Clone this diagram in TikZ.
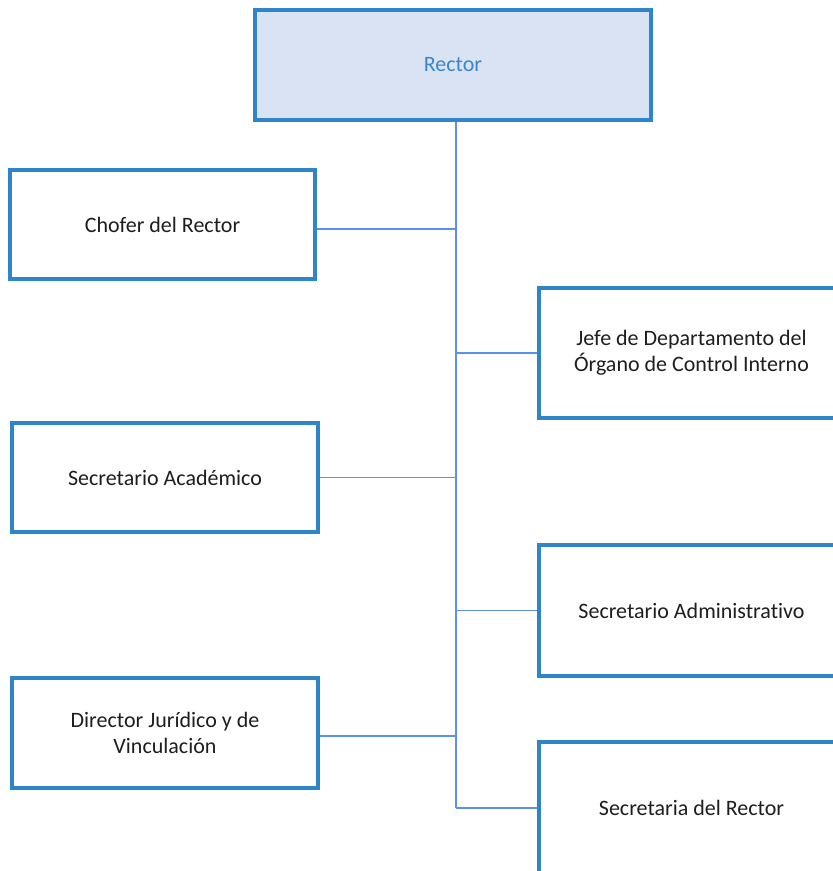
\documentclass[tikz,border=0pt]{standalone}
\usepackage{fontspec}
\setmainfont[Ligatures={NoCommon}]{Carlito}
\definecolor{boxborder}{HTML}{2F85CC}
\definecolor{boxfill}{HTML}{DAE3F3}
\definecolor{conncol}{HTML}{5B8FF2}
\definecolor{rectortext}{HTML}{3A86C8}
\definecolor{bodytext}{HTML}{1E1E1E}
\tikzset{
  orgbox/.style={draw=boxborder, line width=3.5pt, fill=white, align=center,
    text=bodytext, font=\fontsize{22}{26}\selectfont, inner sep=0pt},
  conn/.style={draw=conncol, line width=1.8pt},
}
\begin{document}
\begin{tikzpicture}[x=1pt,y=1pt]
\clip (0,0) rectangle (833,-871);
\fill[white] (0,0) rectangle (833,-871);
\node[orgbox, fill=boxfill, text=rectortext, minimum width=396pt, minimum height=110pt] (rector) at (453,-65) {Rector};
\node[orgbox, minimum width=305pt, minimum height=109pt] (chofer) at (162.5,-224.5) {Chofer del Rector};
\node[orgbox, minimum width=305pt, minimum height=130pt] (jefe) at (691.5,-353) {Jefe de Departamento del\\Órgano de Control Interno};
\node[orgbox, minimum width=306pt, minimum height=109pt] (academico) at (165,-477.5) {Secretario Académico};
\node[orgbox, minimum width=305pt, minimum height=131pt] (admin) at (691.5,-610.5) {Secretario Administrativo};
\node[orgbox, minimum width=306pt, minimum height=110pt] (juridico) at (165,-733) {Director Jurídico y de\\Vinculación};
\node[orgbox, minimum width=305pt, minimum height=132pt] (secretaria) at (691.5,-808) {Secretaria del Rector};
\coordinate (tt) at (456,-122);
\coordinate (tb) at (456,-808);
\draw[conn] (tt) -- (tb);
\draw[conn] ([yshift=-4.5pt]chofer.east) -- ([yshift=-4.5pt]chofer.east -| tt);
\draw[conn] (jefe.west) -- (jefe.west -| tt);
\draw[conn] (academico.east) -- (academico.east -| tt);
\draw[conn] (admin.west) -- (admin.west -| tt);
\draw[conn] ([yshift=-3pt]juridico.east) -- ([yshift=-3pt]juridico.east -| tt);
\draw[conn] (tb) -- (secretaria.west);
\end{tikzpicture}
\end{document}
